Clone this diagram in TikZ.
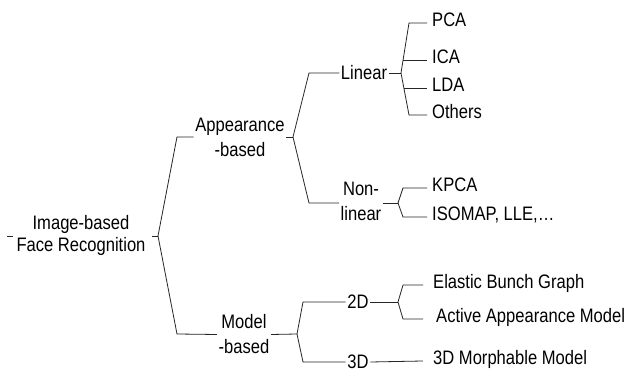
\documentclass[tikz,border=0pt]{standalone}
\usepackage{fontspec}
\setmainfont{Liberation Sans}[FakeStretch=0.85]
\tikzset{
  lbl/.style={inner sep=1.5pt, align=center, text=black},
  leaf/.style={anchor=west, inner ysep=0pt, inner xsep=#1, text=black, text height=0.716em, text depth=0pt},
  conn/.style={draw=black!85, line width=0.8pt}
}
\begin{document}
\begin{tikzpicture}[x=1pt, y=-1pt, font=\fontsize{19.5}{25}\selectfont]
\useasboundingbox[fill=white] (0,0) rectangle (633,374);
% inner nodes
\node[lbl, font=\fontsize{19.5}{22}\selectfont] (root) at (81,235.5) {Image-based\\Face Recognition};
\node[lbl] (app) at (240,137.5) {Appearance\\-based};
\node[lbl] (model) at (244,334.5) {Model\\-based};
\node[lbl] (lin) at (364,73) {Linear};
\node[lbl] (nonlin) at (361,201.5) {Non-\\linear};
\node[lbl] (d2) at (358,302) {2D};
\node[lbl] (d3) at (358,362) {3D};
% leaves
\node[leaf=5pt] (pca) at (427,23) {PCA};
\node[leaf=5pt] (ica) at (427,60) {ICA};
\node[leaf=5pt] (lda) at (427,88) {LDA};
\node[leaf=5pt] (oth) at (427,115) {Others};
\node[leaf=5pt] (kpca) at (427,188) {KPCA};
\node[leaf=5pt] (iso) at (427,217) {ISOMAP, LLE,…};
\node[leaf=10pt] (ebg) at (423,285) {Elastic Bunch Graph};
\node[leaf=13pt] (aam) at (423,319) {Active Appearance Model};
\node[leaf=10pt] (mm) at (423,361) {3D Morphable Model};
% junctions
\coordinate (t0) at (7,236);
\coordinate (t1) at (13,236);
\coordinate (r0) at (152,236);
\coordinate (j0) at (158,236);
\coordinate (j1) at (293,137);
\coordinate (j2) at (401,73);
\coordinate (j3) at (398,203);
\coordinate (j4) at (297,334);
\coordinate (j5) at (398,302);
\coordinate (ia) at (403.1,60);
\coordinate (la) at (403.9,88);
% connectors
\draw[conn] (t0) -- (t1);
\draw[conn] (r0) -- (j0);
\draw[conn] (j0) -- (177,137) -- (app.west |- 0,137);
\draw[conn] (j0) -- (177,334) -- (model.west);
\draw[conn] (app.east |- 0,137) -- (j1);
\draw[conn] (j1) -- (309,73) -- (lin.west);
\draw[conn] (j1) -- (309,203) -- (nonlin.west |- 0,203);
\draw[conn] (lin.east) -- (j2);
\draw[conn] (j2) -- (409,23) -- (pca.west);
\draw[conn] (ia) -- (ica.west);
\draw[conn] (la) -- (lda.west);
\draw[conn] (j2) -- (409,115) -- (oth.west);
\draw[conn] (nonlin.east |- 0,203) -- (j3);
\draw[conn] (j3) -- (403,188) -- (kpca.west);
\draw[conn] (j3) -- (403,217) -- (iso.west);
\draw[conn] (model.east) -- (j4);
\draw[conn] (j4) -- (303,302) -- (d2.west);
\draw[conn] (j4) -- (303,362) -- (d3.west);
\draw[conn] (d2.east) -- (j5);
\draw[conn] (j5) -- (403,285) -- (ebg.west);
\draw[conn] (j5) -- (403,319) -- (aam.west);
\draw[conn] (d3.east) -- (mm.west);
\end{tikzpicture}
\end{document}
